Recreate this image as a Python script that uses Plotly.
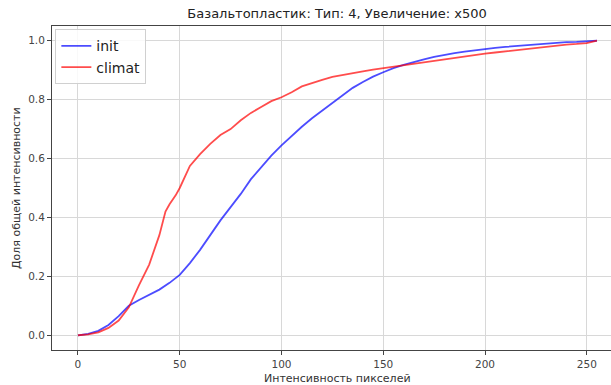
import plotly.graph_objects as go

title_text = "Базальтопластик: Тип: 4, Увеличение: x500"
x_label = "Интенсивность пикселей"
y_label = "Доля общей интенсивности"

x_ticks = [0, 50, 100, 150, 200, 250]
y_ticks = [0.0, 0.2, 0.4, 0.6, 0.8, 1.0]
y_tick_labels = ["0.0", "0.2", "0.4", "0.6", "0.8", "1.0"]

init_x = [0, 5, 10, 15, 20, 25, 30, 35, 40, 45, 50, 55, 60, 65, 70, 75, 80, 85, 90, 95,
          100, 105, 110, 115, 120, 125, 130, 135, 140, 145, 150, 155, 160, 165, 170, 175,
          180, 185, 190, 195, 200, 205, 210, 215, 220, 225, 230, 235, 240, 245, 250, 255]
init_y = [0.000, 0.005, 0.015, 0.035, 0.065, 0.100, 0.120, 0.138, 0.155, 0.178, 0.205,
          0.245, 0.290, 0.340, 0.390, 0.435, 0.480, 0.530, 0.570, 0.610, 0.645, 0.678,
          0.708, 0.737, 0.762, 0.790, 0.815, 0.840, 0.860, 0.878, 0.893, 0.907, 0.918,
          0.928, 0.937, 0.945, 0.952, 0.958, 0.963, 0.968, 0.972, 0.976, 0.979, 0.982,
          0.985, 0.988, 0.991, 0.993, 0.995, 0.996, 0.997, 1.000]

climat_x = [0, 5, 10, 15, 20, 25, 30, 33, 35, 40, 43, 45, 48, 50, 55, 60, 65, 70, 75, 80,
            85, 90, 95, 100, 105, 110, 115, 120, 125, 130, 135, 140, 145, 150, 155, 160,
            165, 170, 175, 180, 185, 190, 195, 200, 205, 210, 215, 220, 225, 230, 235,
            240, 245, 250, 255]
climat_y = [0.000, 0.003, 0.010, 0.025, 0.050, 0.095, 0.170, 0.215, 0.240, 0.340, 0.420,
            0.445, 0.475, 0.500, 0.575, 0.615, 0.650, 0.680, 0.700, 0.730, 0.755, 0.775,
            0.795, 0.808, 0.825, 0.845, 0.857, 0.867, 0.877, 0.884, 0.890, 0.896, 0.902,
            0.907, 0.912, 0.917, 0.922, 0.928, 0.933, 0.938, 0.943, 0.948, 0.952, 0.956,
            0.960, 0.964, 0.968, 0.972, 0.976, 0.980, 0.984, 0.987, 0.989, 0.992, 1.000]

FONT = "DejaVu Sans"

fig = go.Figure()
fig.add_trace(go.Scatter(x=init_x, y=init_y, mode="lines", name="init",
                         line=dict(color="rgba(0,0,255,0.7)", width=1.8)))
fig.add_trace(go.Scatter(x=climat_x, y=climat_y, mode="lines", name="climat",
                         line=dict(color="rgba(255,0,0,0.7)", width=1.8)))

fig.update_layout(
    width=611, height=385,
    margin=dict(l=52, r=0, t=26, b=35, autoexpand=False),
    paper_bgcolor="white", plot_bgcolor="white",
    font=dict(family=FONT, size=10, color="#333"),
    title=dict(text=title_text, x=0.51, xref="paper", xanchor="center",
               y=1 - 13 / 385, yref="container", yanchor="middle",
               font=dict(family=FONT, size=13, color="#222")),
    showlegend=True,
    legend=dict(x=0.006, y=0.99, xanchor="left", yanchor="top",
                bgcolor="rgba(255,255,255,0.85)", bordercolor="#d0d0d0", borderwidth=1,
                font=dict(family=FONT, size=14, color="#222"), tracegroupgap=2),
    xaxis=dict(range=[-12.75, 261.9], tickvals=x_ticks, ticks="outside", ticklen=4,
               tickcolor="#444", showgrid=True, gridcolor="#d8d8d8", gridwidth=1,
               showline=True, linecolor="#444", linewidth=1, mirror=True,
               zeroline=False, automargin=False,
               tickfont=dict(family=FONT, size=10.5, color="#444")),
    yaxis=dict(range=[-0.05, 1.05], tickvals=y_ticks, ticktext=y_tick_labels,
               ticks="outside", ticklen=4, tickcolor="#444",
               showgrid=True, gridcolor="#d8d8d8", gridwidth=1,
               showline=True, linecolor="#444", linewidth=1, mirror=False,
               zeroline=False, automargin=False,
               tickfont=dict(family=FONT, size=10.5, color="#444")),
    annotations=[
        dict(text=x_label, xref="paper", yref="paper", x=0.51, y=-28 / 324,
             xanchor="center", yanchor="middle", showarrow=False,
             font=dict(family=FONT, size=11, color="#333")),
        dict(text=y_label, xref="paper", yref="paper", x=-36 / 559, y=0.5,
             xanchor="center", yanchor="middle", showarrow=False, textangle=-90,
             font=dict(family=FONT, size=11, color="#333")),
    ],
)

fig.write_html("out.html",
               config={"displayModeBar": False, "staticPlot": True},
               post_script="document.body.style.margin='0';document.body.style.overflow='hidden';")
